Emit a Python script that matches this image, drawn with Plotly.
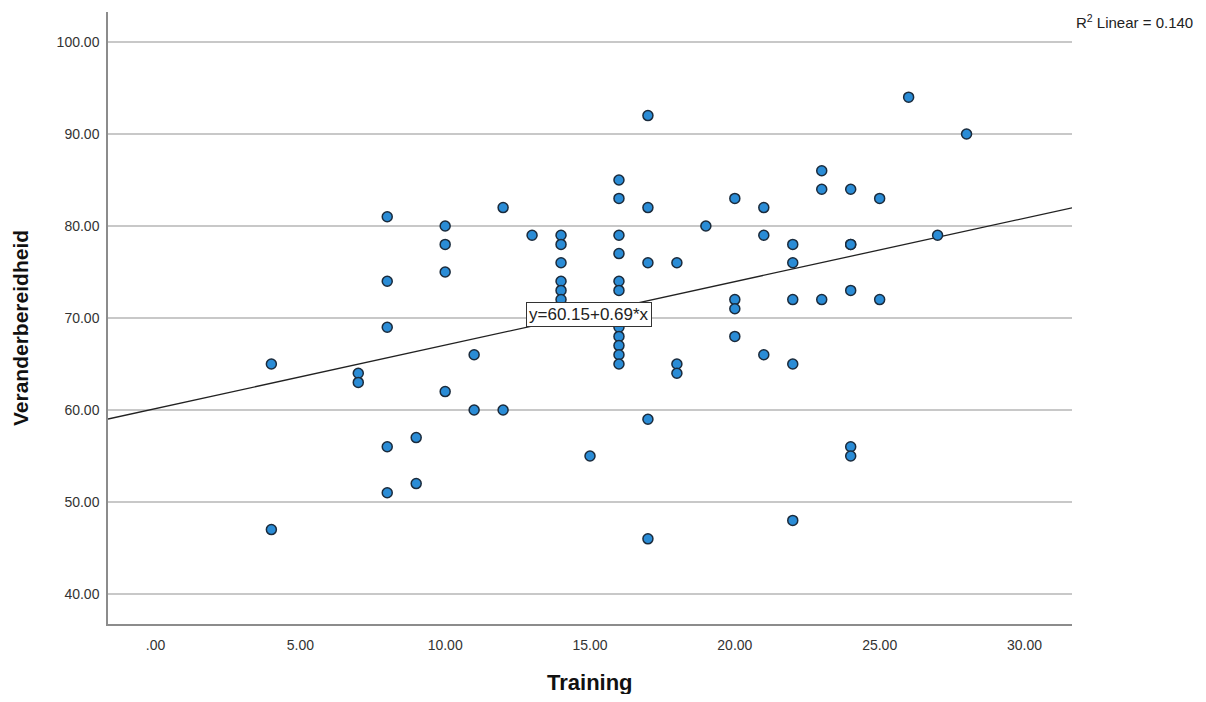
import plotly.graph_objects as go

# ---- data ----
training = [4, 4,
            7, 7,
            8, 8, 8, 8, 8,
            9, 9,
            10, 10, 10, 10,
            11, 11,
            12, 12,
            13,
            14, 14, 14, 14, 14, 14,
            15,
            16, 16, 16, 16, 16, 16, 16, 16, 16, 16, 16,
            17, 17, 17, 17, 17,
            18, 18, 18,
            19,
            20, 20, 20, 20,
            21, 21, 21,
            22, 22, 22, 22, 22,
            23, 23, 23,
            24, 24, 24, 24, 24, 24,
            25, 25,
            26,
            27,
            28]
veranderbereidheid = [65, 47,
                      64, 63,
                      81, 74, 69, 56, 51,
                      57, 52,
                      80, 78, 75, 62,
                      66, 60,
                      82, 60,
                      79,
                      79, 78, 76, 74, 73, 72,
                      55,
                      85, 83, 79, 77, 74, 73, 69, 68, 67, 66, 65,
                      92, 82, 76, 59, 46,
                      76, 65, 64,
                      80,
                      83, 72, 71, 68,
                      82, 79, 66,
                      78, 76, 72, 65, 48,
                      86, 84, 72,
                      84, 78, 78, 73, 56, 55,
                      83, 72,
                      94,
                      79,
                      90]

fit_intercept = 60.15
fit_slope = 0.69
fit_label = "y=60.15+0.69*x"
r2_label = "R<sup>2</sup> Linear = 0.140"
x_title = "Training"
y_title = "Veranderbereidheid"

x_tickvals = [0, 5, 10, 15, 20, 25, 30]
x_ticktext = [".00", "5.00", "10.00", "15.00", "20.00", "25.00", "30.00"]
y_tickvals = [40, 50, 60, 70, 80, 90, 100]
y_ticktext = ["40.00", "50.00", "60.00", "70.00", "80.00", "90.00", "100.00"]

x_range = [-1.64, 31.64]
y_range = [36.74, 103.26]

FONT = "Liberation Sans, Arial, sans-serif"

fig = go.Figure()

# regression line across the full x range
line_x = x_range
line_y = [fit_intercept + fit_slope * v for v in line_x]
fig.add_trace(go.Scatter(
    x=line_x, y=line_y, mode="lines",
    line=dict(color="#222222", width=1.3),
    hoverinfo="skip", showlegend=False,
))

fig.add_trace(go.Scatter(
    x=training, y=veranderbereidheid, mode="markers",
    marker=dict(size=10, color="#2A8CD6",
                line=dict(color="#1B2B3C", width=1.5)),
    showlegend=False,
))

fig.add_annotation(
    x=14.98, y=70.33, xref="x", yref="y", text=fit_label, showarrow=False,
    font=dict(family=FONT, size=17, color="#222222"),
    bgcolor="white", bordercolor="#333333", borderwidth=1, borderpad=2,
)

fig.add_annotation(
    x=1.1276, y=0.9837, xref="paper", yref="paper", text=r2_label, showarrow=False,
    font=dict(family=FONT, size=15, color="#222222"),
    xanchor="right", yanchor="middle",
)

fig.add_annotation(
    x=0.5, y=-0.0948, xref="paper", yref="paper", text="<b>" + x_title + "</b>",
    showarrow=False, font=dict(family=FONT, size=22, color="#111111"),
    xanchor="center", yanchor="middle",
)
fig.add_annotation(
    x=-0.0902, y=0.4837, xref="paper", yref="paper", text="<b>" + y_title + "</b>",
    showarrow=False, font=dict(family=FONT, size=21, color="#111111"),
    textangle=-90, xanchor="center", yanchor="middle",
)

fig.update_layout(
    width=1190, height=686,
    margin=dict(l=100, r=126, t=4, b=70),
    paper_bgcolor="white", plot_bgcolor="white",
    font=dict(family=FONT, size=14, color="#333333"),
)

fig.update_xaxes(
    range=x_range, tickvals=x_tickvals, ticktext=x_ticktext,
    showgrid=False, zeroline=False, showline=True, linecolor="#8c8c8c", linewidth=1.5,
    ticks="", ticklabelstandoff=7,
    tickfont=dict(family=FONT, size=14, color="#333333"),
)
fig.update_yaxes(
    range=y_range, tickvals=y_tickvals, ticktext=y_ticktext,
    showgrid=True, gridcolor="#c8c8c8", gridwidth=1.5,
    zeroline=False, showline=True, linecolor="#8c8c8c", linewidth=1.5,
    ticks="", ticklabelstandoff=4,
    tickfont=dict(family=FONT, size=14, color="#333333"),
)

fig.write_html("out.html")
